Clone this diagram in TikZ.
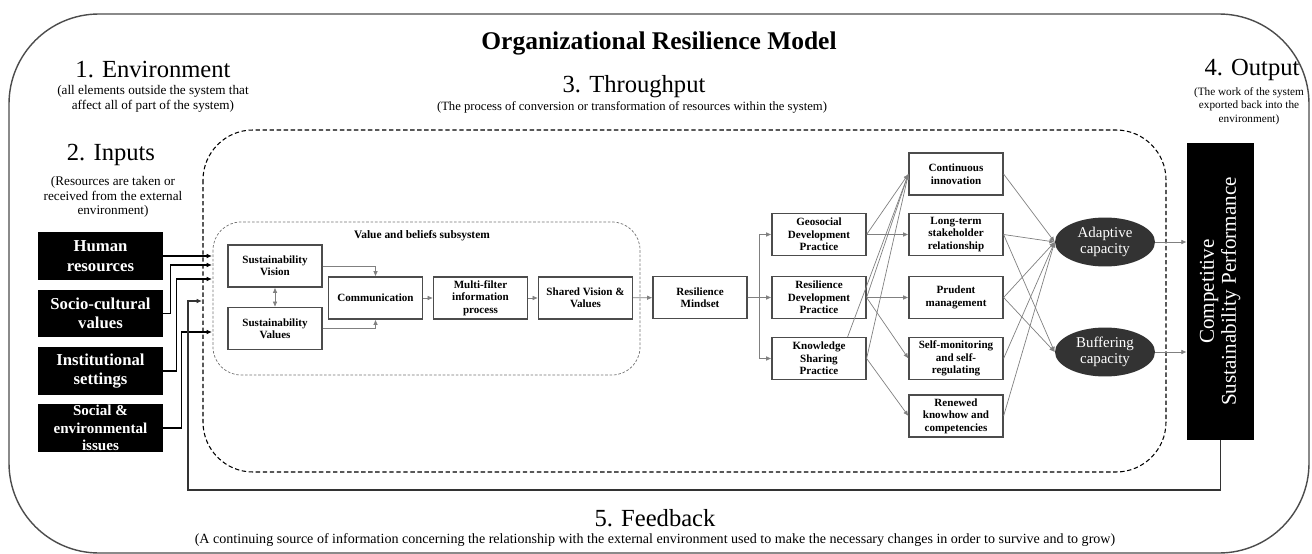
\documentclass[tikz,border=0pt]{standalone}
\usepackage{fontspec}
\setmainfont{Liberation Serif}
\usetikzlibrary{shapes.geometric,arrows.meta}

\newcommand\boxfont{\fontsize{6.3}{7.1}\selectfont\bfseries}
\newcommand\inputfont{\fontsize{9.5}{11}\selectfont\bfseries}
\newcommand\headfont{\fontsize{14}{16}\selectfont}
\newcommand\notefont{\fontsize{7.5}{8.2}\selectfont}

\tikzstyle{box} = [rectangle,draw=black!70,line width=0.7pt,fill=white,align=center,font=\boxfont,minimum width=1.88cm,minimum height=0.84cm,inner sep=1pt]
\tikzstyle{input box} = [rectangle,fill=black,text=white,align=center,font=\inputfont,minimum width=2.5cm,minimum height=0.96cm,inner sep=1pt]
\tikzstyle{capacity} = [ellipse,fill=black!80,text=white,align=center,font=\fontsize{8.5}{9.5}\selectfont,minimum width=2cm,minimum height=0.98cm,inner sep=0pt]
\tikzstyle{edge} = [draw,line width=0.6pt,->]
\tikzstyle{thin edge} = [draw,line width=0.4pt,->,black!50]
\tikzstyle{heading} = [align=center,font=\headfont]
\tikzstyle{note} = [align=center,font=\notefont]

\begin{document}
\begin{tikzpicture}[x=0.02cm,y=-0.02cm,>={Latex[length=3pt,width=2.6pt]}]
     \useasboundingbox (0,0) rectangle (1312,554);
     % frames: environment, throughput, subsystem
     \draw[black!70,line width=0.8pt,rounded corners=1.8cm] (9,14) rectangle (1309,553);
     \draw[line width=0.6pt,dash pattern=on 2.5pt off 1.5pt,rounded corners=1cm] (203,130) rectangle (1166,472);
     \draw[black!55,dash pattern=on 1.5pt off 1pt,rounded corners=0.56cm] (213,222) rectangle (640,375);

     % headings and their notes
     \node[font=\fontsize{14.5}{16}\selectfont\bfseries] (title) at (659,43) {Organizational Resilience Model};
     \node[heading] (env) at (153,70) {1. Environment};
     \node[note] (envnote) at (153,99) {(all elements outside the system that\\affect all of part of the system)};
     \node[heading] (inputs) at (111,155) {2. Inputs};
     \node[note] (inputsnote) at (113,197) {(Resources are taken or\\received from the external\\environment)};
     \node[heading] (thru) at (634,87) {3. Throughput};
     \node[note,font=\fontsize{7.2}{8}\selectfont] (thrunote) at (632,107) {(The process of conversion or transformation of resources within the system)};
     \node[heading] (output) at (1252,70) {4. Output};
     \node[note,font=\fontsize{6.4}{7.6}\selectfont] (outputnote) at (1249,106) {(The work of the system\\exported back into the\\environment)};
     \node[heading] (feedback) at (655,518) {5. Feedback};
     \node[note,font=\fontsize{8}{9}\selectfont] (fbnote) at (655,540) {(A continuing source of information concerning the relationship with the external environment used to make the necessary changes in order to survive and to grow)};
     \node[font=\fontsize{6.5}{7.5}\selectfont\bfseries] (subsys) at (422,236) {Value and beliefs subsystem};

     % First we draw the inputs
     \foreach \pos/\name/\txt in {{(100.5,256)/hum/{Human\\resources}},
       {(100.5,313.5)/soc/{Socio-cultural\\values}}, {(100.5,371)/inst/{Institutional\\settings}}}
     \node[input box] (\name) at \pos {\txt};
     \node[input box,font=\fontsize{8.6}{9.8}\selectfont\bfseries] (socenv) at (100.5,428) {Social \&\\environmental\\issues};

     % then the boxes of the throughput
     \foreach \pos/\name/\txt in {{(275,266)/svis/{Sustainability\\Vision}}, {(275,328.5)/sval/{Sustainability\\Values}},
       {(375.5,298)/comm/{Communication}}, {(480.5,298)/multi/{Multi-filter\\information\\process}},
       {(585.5,298)/shared/{Shared Vision \&\\Values}}, {(700,297.5)/mind/{Resilience\\Mindset}},
       {(819,234.5)/geo/{Geosocial\\Development\\Practice}}, {(819,297.5)/resdev/{Resilience\\Development\\Practice}},
       {(819,358.5)/know/{Knowledge\\Sharing\\Practice}}}
     \node[box] (\name) at \pos {\txt};

     \foreach \pos/\name/\txt in {{(956,174)/cont/{Continuous\\innovation}}, {(956,234.5)/long/{Long-term\\stakeholder\\relationship}},
       {(956,297.5)/prud/{Prudent\\management}}, {(956,358.5)/self/{Self-monitoring\\and self-\\regulating}},
       {(956,416)/renew/{Renewed\\knowhow and\\competencies}}}
     \node[box] (\name) at \pos {\txt};

     \node[capacity] (adapt) at (1105,242) {Adaptive\\capacity};
     \node[capacity] (buff) at (1105,352) {Buffering\\capacity};
     \node[rectangle,fill=black,text=white,minimum width=1.34cm,minimum height=5.94cm,inner sep=0pt] (perf) at (1220.5,291.5)
       {\rotatebox{90}{\fontsize{12}{12.5}\selectfont\begin{tabular}{@{}c@{}}Competitive\\Sustainability Performance\end{tabular}}};

     % Connect the inputs with the subsystem
     \coordinate (in1) at (212,256);
     \coordinate (in2) at (212,265);
     \coordinate (in3) at (212,279);
     \coordinate (in4) at (212,332);
     \foreach \source/\dest/\off in {hum/in1/0, soc/in2/7, inst/in3/13, socenv/in4/18}
     \path[edge] (\source.east) -- ++(\off,0) |- (\dest);

     % feedback loop back into the throughput
     \coordinate (fbl) at (188,490);
     \coordinate (fbin) at (202,301);
     \path[edge,black!80] (perf.south) |- (fbl) |- (fbin);

     % value and beliefs chain
     \path[thin edge,<->] (svis) -- (sval);
     \path[thin edge] (svis.east) -| (comm.north);
     \path[thin edge] (sval.east) -| (comm.south);
     \foreach \source/\dest in {comm/multi, multi/shared, shared/mind}
     \path[thin edge] (\source) -- (\dest);

     % mindset splits into the three practices
     \coordinate (split) at (759,297.5);
     \foreach \dest in {geo, resdev, know}
     \path[thin edge] (mind.east) -- (split) |- (\dest.west);

     % practices to outcomes, outcomes to capacities
     \foreach \source/\dest in {geo/cont, geo/long, resdev/cont, resdev/prud, resdev/self, know/cont, know/renew}
     \path[thin edge] (\source.east) -- (\dest.west);
     \path[thin edge] ([xshift=-0.38cm]know.north east) -- (cont.west);
     \foreach \source/\dest in {cont/adapt, long/adapt, long/buff, prud/adapt, prud/buff, self/adapt, renew/adapt}
     \path[thin edge] (\source.east) -- (\dest.west);

     \foreach \source in {adapt, buff}
     \path[thin edge] (\source.east) -- (\source.east -| perf.west);
   \end{tikzpicture}
\end{document}
